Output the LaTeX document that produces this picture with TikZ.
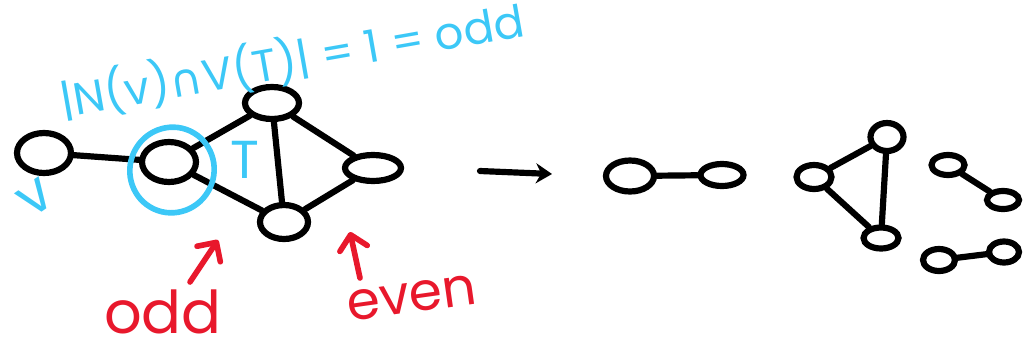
\documentclass[tikz,border=0pt]{standalone}
\usepackage{fontspec}
\setmainfont{Poppins}
\newfontfamily\symfont{DejaVu Sans}
\usetikzlibrary{arrows.meta,shapes.geometric}
\definecolor{skblue}{HTML}{3CC8F7}
\definecolor{mkred}{HTML}{E8182C}

\begin{document}
\begin{tikzpicture}[
  x=0.025cm, y=-0.025cm,
  vtx/.style 2 args={ellipse, draw, line width=4.4pt, inner sep=0pt, minimum width=#1*0.025cm, minimum height=#2*0.025cm},
  edge/.style={line width=4.4pt, line cap=round},
  bluetxt/.style={text=skblue, font=\fontsize{32}{36}\selectfont, inner sep=0pt},
  redtxt/.style={text=mkred, font=\fontsize{42}{48}\selectfont, inner sep=0pt},
  redarr/.style={-{Straight Barb[length=3.5mm,width=7mm,round]}, mkred, line width=4pt, line cap=round},
]
\useasboundingbox (0,0) rectangle (1024,350);
% left graph
\node[vtx={54}{40}] (v) at (44,153) {};
\node[vtx={54}{40}] (u) at (169,162) {};
\node[vtx={54}{32}] (top) at (272,103) {};
\node[vtx={56}{26}] (right) at (373,168) {};
\node[vtx={48}{34}] (bot) at (284,222) {};
\draw[edge] (v) -- (u);
\draw[edge] (u) -- (top);
\draw[edge] (u) -- (bot);
\draw[edge] (top) -- (bot);
\draw[edge] (top) -- (right);
\draw[edge] (bot) -- (right);

% blue notes
\node[ellipse, draw=skblue, line width=4pt, minimum width=84*0.025cm, minimum height=86*0.025cm, rotate=-25] (ring) at (172,170) {};
\node[bluetxt, font=\fontsize{38}{42}\selectfont] (tlab) at (245,160) {T};
\node[bluetxt, font=\fontsize{40}{44}\selectfont, rotate=35] (vlab) at (36,198) {v};
\node[bluetxt, rotate=10] (count) at (292,60) {|N(v){\symfont ∩}V(T)| = 1 = odd};

% red notes
\node[redtxt] (oddlab) at (163,312) {odd};
\node[redtxt, font=\fontsize{38}{44}\selectfont, rotate=8] (evenlab) at (412,298) {even};
\coordinate (oddtail) at (190,282);
\coordinate (oddhead) at (218,240);
\coordinate (eventail) at (360,278);
\coordinate (evenhead) at (350,232);
\draw[redarr] (oddtail) -- (oddhead);
\draw[redarr] (eventail) -- (evenhead);

% becomes
\coordinate (goL) at (480,171);
\coordinate (goR) at (552,174);
\draw[edge, -{Stealth[length=4mm,width=5mm]}] (goL) -- (goR);

% right components
\node[vtx={48}{31}] (pa) at (630,176) {};
\node[vtx={43}{22}] (pb) at (722,175) {};
\node[vtx={35}{24}] (ta) at (814,177) {};
\node[vtx={33}{28}] (tt) at (887,137) {};
\node[vtx={35}{21}] (tb) at (881,238) {};
\node[vtx={33}{20}] (qa) at (948,165) {};
\node[vtx={32}{18}] (qb) at (1003,200) {};
\node[vtx={32}{22}] (sa) at (939,260) {};
\node[vtx={30}{21}] (sb) at (1004,252) {};
\draw[edge] (pa) -- (pb);
\draw[edge] (ta) -- (tt);
\draw[edge] (ta) -- (tb);
\draw[edge] (tt) -- (tb);
\draw[edge] (qa) -- (qb);
\draw[edge] (sa) -- (sb);
\end{tikzpicture}
\end{document}
